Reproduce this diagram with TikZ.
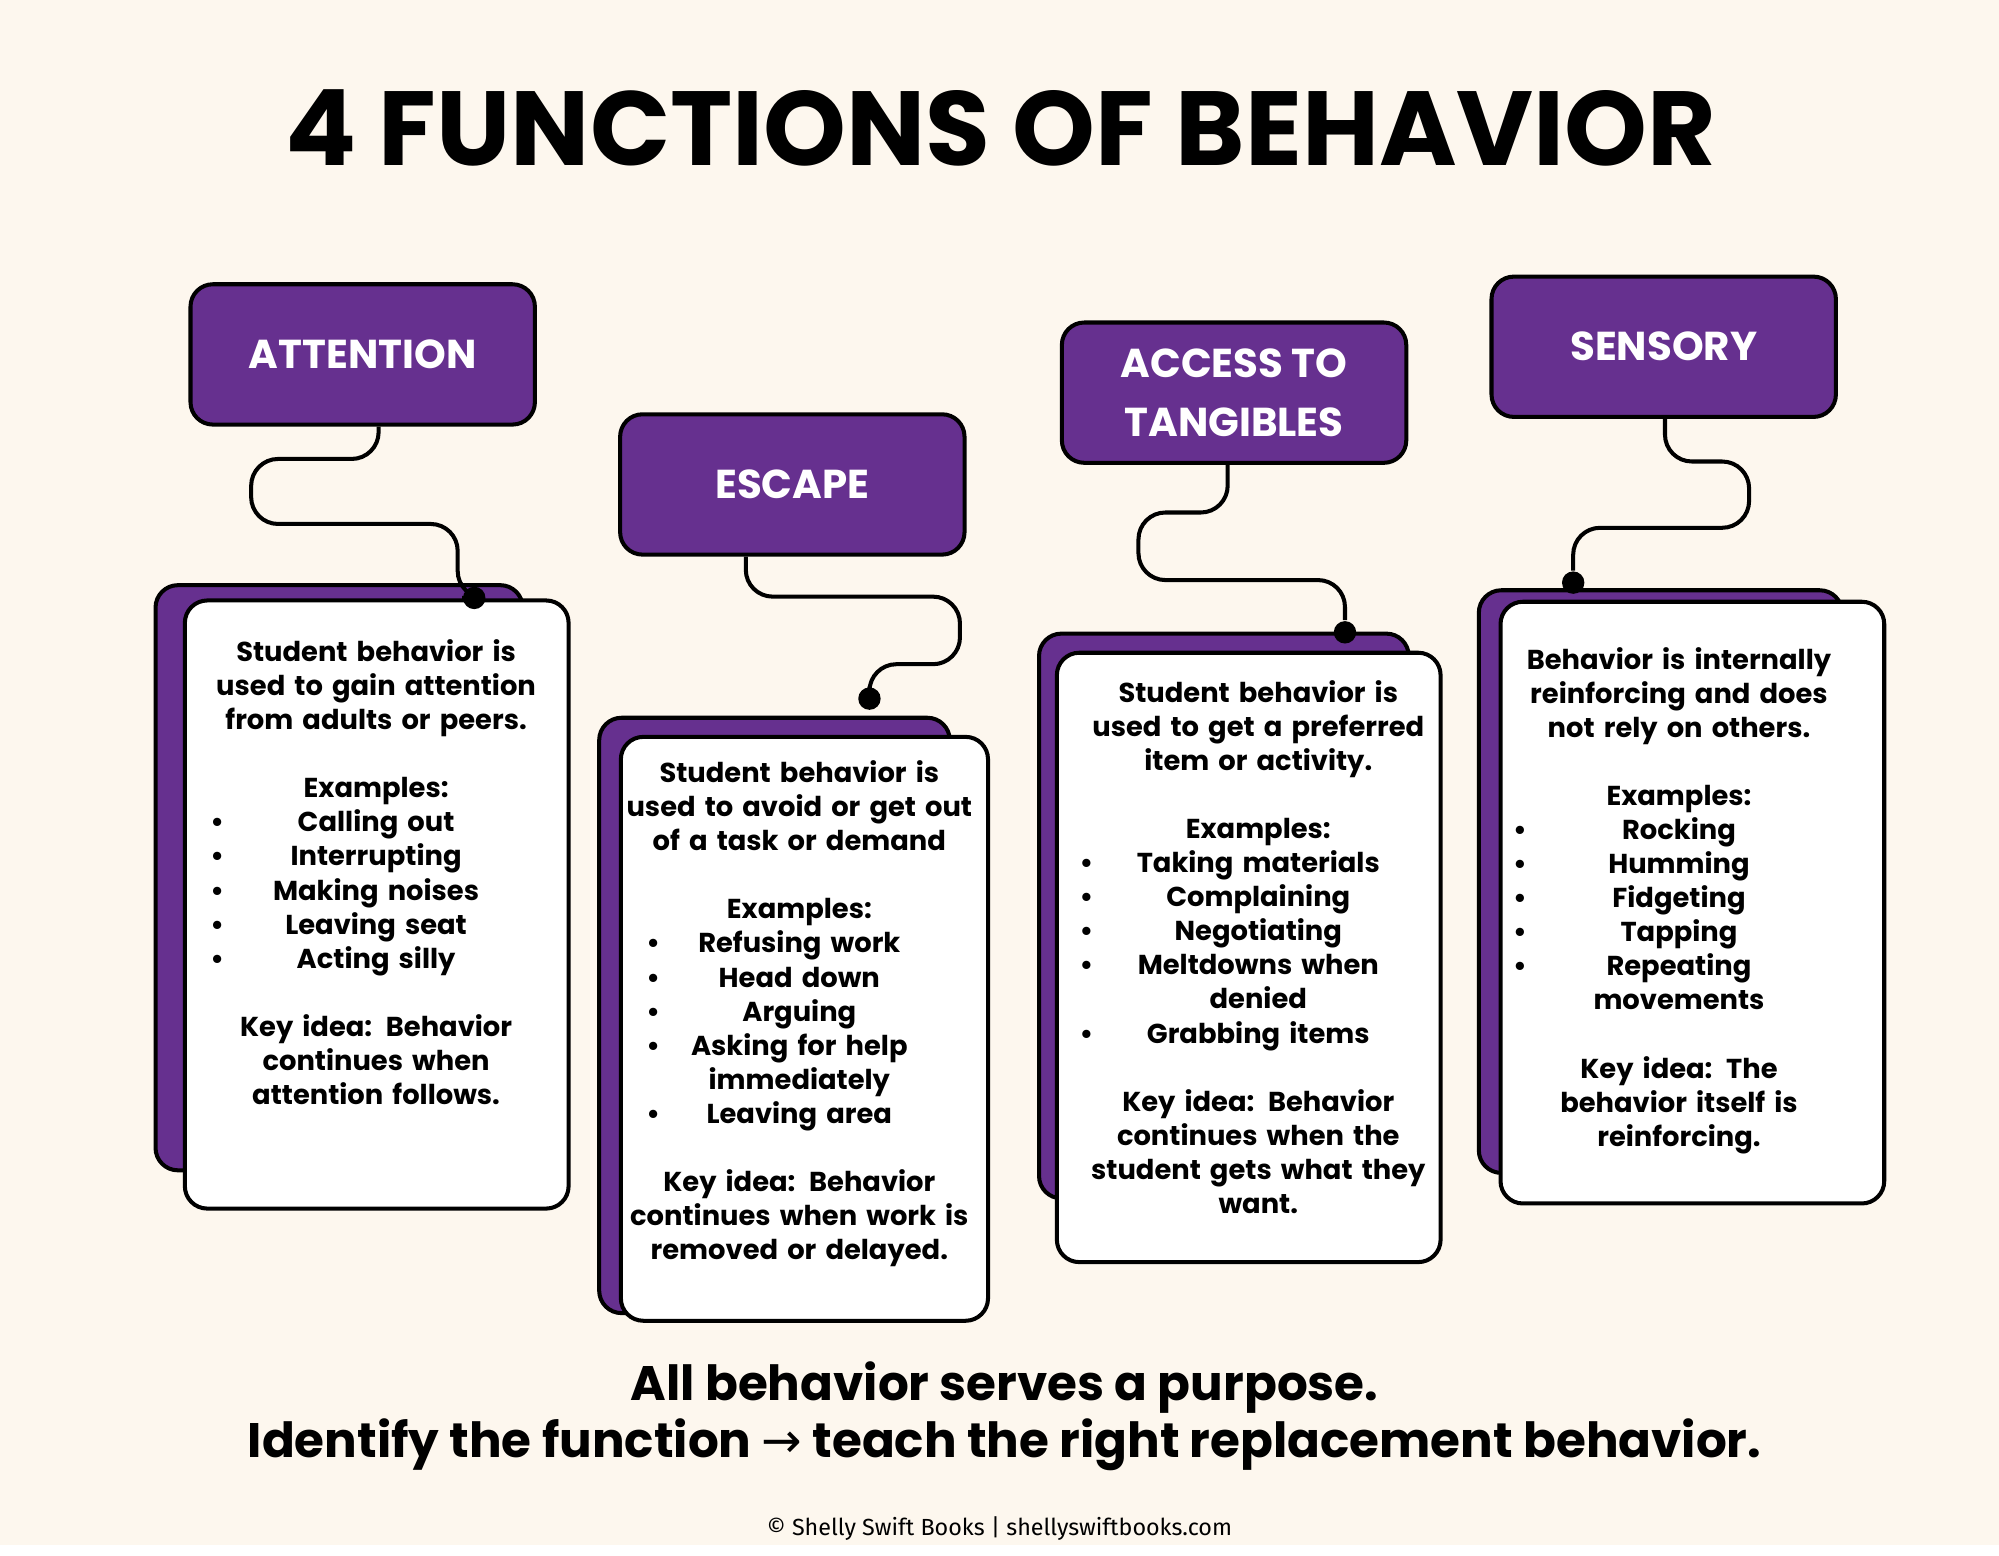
\documentclass[tikz,border=0pt]{standalone}
\usepackage{fontspec}
\setmainfont{Poppins}
\newfontfamily\bodyf{Fira Sans}
\newfontfamily\arrf{DejaVu Sans}
\definecolor{pur}{HTML}{66308F}
\definecolor{bg}{HTML}{FDF7EE}
\newlength\bw
\newcommand{\bl}[1]{\makebox[\bw]{\textbullet\hfill #1\hfill\phantom{\textbullet}}}
\begin{document}
\begin{tikzpicture}[x=0.01cm,y=-0.01cm,
 hdr/.style={draw=black,line width=0.9pt,fill=pur,rounded corners=5pt,text=white,font=\bfseries\fontsize{9}{13}\selectfont,align=center,minimum width=2.7cm,minimum height=1.1cm},
 back/.style={draw=black,line width=0.9pt,fill=pur,rounded corners=5pt},
 card/.style={draw=black,line width=0.9pt,fill=white,rounded corners=5pt},
 body/.style={font=\bfseries\fontsize{6.1}{7.6}\selectfont,align=center,anchor=north,inner sep=0pt,text width=3cm},
 con/.style={line width=0.9pt,rounded corners=6pt},
 dot/.style={circle,fill=black,inner sep=0pt,minimum size=5pt}]
\fill[bg] (0,0) rectangle (1568,1212);
\node (title) at (785,100) {\bfseries\fontsize{23.5}{28}\selectfont 4 FUNCTIONS OF BEHAVIOR};
% attention
\draw[back] (122,459) rectangle (410,918);
\draw[card] (145,471) rectangle (446,948);
\node[hdr] (h1) at (284.5,278) {ATTENTION};
\node[dot] (d1) at (372,469) {};
\draw[con] (h1.south -| 297,0) -- (297,360) -- (197,360) -- (197,411) -- (359,411) -- (359,469) -- (d1);
\setlength{\bw}{2.6cm}
\node[body] (t1) at (295,501) {Student behavior is\\used to gain attention\\from adults or peers.\\[7.6pt]Examples:\\\bl{Calling out}\\\bl{Interrupting}\\\bl{Making noises}\\\bl{Leaving seat}\\\bl{Acting silly}\\[7.6pt]Key idea: Behavior\\continues when\\attention follows.};
% escape
\draw[back] (470,563) rectangle (745,1030);
\draw[card] (487,578) rectangle (775,1036);
\node[hdr] (h2) at (621.5,380) {ESCAPE};
\node[dot] (d2) at (682,548) {};
\draw[con] (h2.south -| 585,0) -- (585,468) -- (753,468) -- (753,521) -- (682,521) -- (d2);
\setlength{\bw}{2.4cm}
\node[body] (t2) at (627,596) {Student behavior is\\used to avoid or get out\\of a task or demand\\[7.6pt]Examples:\\\bl{Refusing work}\\\bl{Head down}\\\bl{Arguing}\\\bl{Asking for help}\\immediately\\\bl{Leaving area}\\[7.6pt]Key idea: Behavior\\continues when work is\\removed or delayed.};
% access
\draw[back] (815,497) rectangle (1105,940);
\draw[card] (829,512) rectangle (1130,990);
\node[hdr] (h3) at (968,308) {ACCESS TO\\TANGIBLES};
\node[dot] (d3) at (1055,496) {};
\draw[con] (h3.south -| 963,0) -- (963,402) -- (893,402) -- (893,455) -- (1055,455) -- (d3);
\setlength{\bw}{2.8cm}
\node[body] (t3) at (987,533) {Student behavior is\\used to get a preferred\\item or activity.\\[7.6pt]Examples:\\\bl{Taking materials}\\\bl{Complaining}\\\bl{Negotiating}\\\bl{Meltdowns when}\\denied\\\bl{Grabbing items}\\[7.6pt]Key idea: Behavior\\continues when the\\student gets what they\\want.};
% sensory
\draw[back] (1160,463) rectangle (1445,920);
\draw[card] (1177,472) rectangle (1478,944);
\node[hdr] (h4) at (1305,272) {SENSORY};
\node[dot] (d4) at (1234,457) {};
\draw[con] (h4.south -| 1306,0) -- (1306,362) -- (1372,362) -- (1372,414) -- (1234,414) -- (d4);
\setlength{\bw}{2.6cm}
\node[body] (t4) at (1317,507) {Behavior is internally\\reinforcing and does\\not rely on others.\\[7.6pt]Examples:\\\bl{Rocking}\\\bl{Humming}\\\bl{Fidgeting}\\\bl{Tapping}\\\bl{Repeating}\\movements\\[7.6pt]Key idea: The\\behavior itself is\\reinforcing.};
\node[font=\bfseries\fontsize{10.8}{12.8}\selectfont,align=center] (foot) at (788,1111) {All behavior serves a purpose.\\Identify the function {\arrf\mdseries →} teach the right replacement behavior.};
\node[font=\bodyf\fontsize{5.2}{6}\selectfont] (copy) at (784,1199) {© Shelly Swift Books | shellyswiftbooks.com};
\end{tikzpicture}
\end{document}
